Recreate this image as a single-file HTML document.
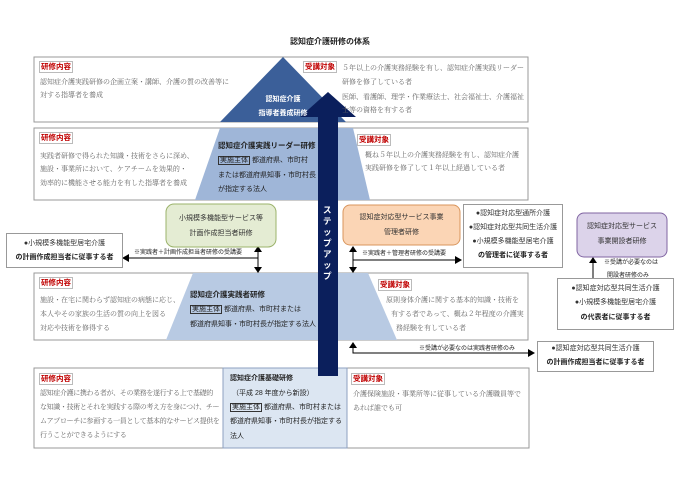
<!DOCTYPE html>
<html><head><meta charset="utf-8"><style>
body{margin:0;background:#fff;width:680px;height:481px;overflow:hidden;position:relative;font-family:"Liberation Sans","Noto Sans CJK JP",sans-serif;}
.a{position:absolute;white-space:nowrap;font-size:7px;line-height:10px;color:#555;}
.s{font-family:"Liberation Serif","Noto Serif CJK SC",serif;color:#666;}
.b{font-weight:bold;color:#222;}
.w{color:#fff;font-weight:bold;}
.lab{position:absolute;font-size:7.5px;line-height:10px;color:#c00000;font-weight:bold;border:1px solid #bbb;padding:0 1px;background:#fff;}
.bx{border:1px solid #333;padding:0 1px;}
.box{position:absolute;border:1px solid #999;background:#fff;}
.c{text-align:center;}
.n{letter-spacing:-0.35px;}
</style></head><body>
<svg width="680" height="481" style="position:absolute;left:0;top:0">
<rect x="34" y="57" width="494" height="65" fill="#fff" stroke="#999"/>
<rect x="34" y="128" width="494" height="72" fill="#fff" stroke="#999"/>
<rect x="34" y="273" width="494" height="67" fill="#fff" stroke="#999"/>
<rect x="34" y="368" width="495" height="80" fill="#fff" stroke="#999"/>
<rect x="223" y="368" width="124" height="80" fill="#dce6f2" stroke="#8ea0c0"/>
<polygon points="283,57 220,122 346,122" fill="#3b5f99"/>
<polygon points="220,128 353,128 370,200 195,200" fill="#9fb6d8"/>
<polygon points="193,273 368,273 397,340 166,340" fill="#b8cae3"/>
<g stroke="#000" stroke-width="1" fill="none">
<line x1="258" y1="250" x2="258" y2="270"/>
<line x1="258" y1="258" x2="128" y2="258"/>
<line x1="353" y1="250" x2="353" y2="270"/>
<line x1="353" y1="260" x2="455" y2="260"/>
<line x1="593" y1="263" x2="593" y2="278"/>
<polyline points="353,348 353,353 528,353"/>
</g>
<g fill="#000">
<polygon points="258,246 254,252 262,252"/><polygon points="258,273 254,267 262,267"/>
<polygon points="122,258 129,254 129,262"/>
<polygon points="353,246 349,252 357,252"/><polygon points="353,273 349,267 357,267"/>
<polygon points="462,260 455,256 455,264"/>
<polygon points="593,257 589,263 597,263"/>
<polygon points="353,342 349,348 357,348"/>
<polygon points="535,353 528,349 528,357"/>
</g>
<polygon points="328,92 356,117 338,117 338,376 318,376 318,117 300,117" fill="#0b1f5c"/>
<rect x="166" y="204" width="110" height="43" rx="8" fill="#e4ecd3" stroke="#9bb36b"/>
<rect x="343" y="205" width="117" height="40" rx="7" fill="#fbd5b5" stroke="#d9955c"/>
<rect x="577" y="213" width="90" height="44" rx="7" fill="#dcd3ea" stroke="#8064a2"/>
</svg>
<div class="a b" style="left:290px;top:37px;font-size:8px;">認知症介護研修の体系</div>

<div class="lab" style="left:39px;top:61px">研修内容</div>
<div class="a s" style="left:40px;top:77px">認知症介護実践研修の企画立案・講師、介護の質の改善等に</div>
<div class="a s" style="left:40px;top:90px">対する指導者を養成</div>
<div class="lab" style="left:303px;top:61px">受講対象</div>
<div class="a s" style="left:342px;top:63px">５年以上の介護実務経験を有し、認知症介護実践リーダー</div>
<div class="a s" style="left:342px;top:77px">研修を修了している者</div>
<div class="a s" style="left:342px;top:92px">医師、看護師、理学・作業療法士、社会福祉士、介護福祉</div>
<div class="a s" style="left:342px;top:105px">士等の資格を有する者</div>
<div class="a w c" style="left:243px;top:95px;width:80px">認知症介護</div>
<div class="a w c" style="left:243px;top:109px;width:80px">指導者養成研修</div>

<div class="lab" style="left:39px;top:132px">研修内容</div>
<div class="a s" style="left:40px;top:151px">実践者研修で得られた知識・技術をさらに深め、</div>
<div class="a s" style="left:40px;top:164px">施設・事業所において、ケアチームを効果的・</div>
<div class="a s" style="left:40px;top:178px">効率的に機能させる能力を有した指導者を養成</div>
<div class="a b" style="left:218px;top:141px;font-size:7.5px">認知症介護実践リーダー研修</div>
<div class="a" style="left:218px;top:156px;color:#222"><span class="bx">実施主体</span> 都道府県、市町村</div>
<div class="a" style="left:218px;top:171px;color:#222">または都道府県知事・市町村長</div>
<div class="a" style="left:218px;top:185px;color:#222">が指定する法人</div>
<div class="lab" style="left:357px;top:134px">受講対象</div>
<div class="a s" style="left:365px;top:150px">概ね５年以上の介護実務経験を有し、認知症介護</div>
<div class="a s" style="left:365px;top:163px">実践研修を修了して１年以上経過している者</div>

<div class="a c" style="left:166px;top:214px;width:110px;color:#333">小規模多機能型サービス等</div>
<div class="a c" style="left:166px;top:229px;width:110px;color:#333">計画作成担当者研修</div>
<div class="box" style="left:6px;top:233px;width:115px;height:33px"></div>
<div class="a c" style="left:6px;top:239px;width:117px;color:#333">●小規模多機能型居宅介護</div>
<div class="a c b" style="left:6px;top:253px;width:117px">の計画作成担当者に従事する者</div>
<div class="a" style="left:134px;top:248px;font-size:6px;color:#222">※実践者＋計画作成担当者研修の受講要</div>

<div class="a c" style="left:343px;top:213px;width:117px;color:#333">認知症対応型サービス事業</div>
<div class="a c" style="left:343px;top:228px;width:117px;color:#333">管理者研修</div>
<div class="box" style="left:463px;top:204px;width:98px;height:62px"></div>
<div class="a c" style="left:463px;top:209px;width:100px;color:#333">●認知症対応型通所介護</div>
<div class="a c" style="left:463px;top:223px;width:100px;color:#333">●認知症対応型共同生活介護</div>
<div class="a c" style="left:463px;top:237px;width:100px;color:#333">●小規模多機能型居宅介護</div>
<div class="a c b" style="left:463px;top:251px;width:100px">の管理者に従事する者</div>
<div class="a" style="left:362px;top:249px;font-size:6px;color:#222">※実践者＋管理者研修の受講要</div>

<div class="a c" style="left:577px;top:222px;width:90px;color:#333">認知症対応型サービス</div>
<div class="a c" style="left:577px;top:237px;width:90px;color:#333">事業開設者研修</div>
<div class="a" style="left:604px;top:258px;font-size:6px;color:#222">※受講が必要なのは</div>
<div class="a" style="left:607px;top:271px;font-size:6px;color:#222">開設者研修のみ</div>
<div class="box" style="left:557px;top:278px;width:115px;height:50px"></div>
<div class="a c" style="left:557px;top:284px;width:117px;color:#333">●認知症対応型共同生活介護</div>
<div class="a c" style="left:557px;top:298px;width:117px;color:#333">●小規模多機能型居宅介護</div>
<div class="a c b" style="left:557px;top:313px;width:117px">の代表者に従事する者</div>

<div class="lab" style="left:39px;top:277px">研修内容</div>
<div class="a s" style="left:40px;top:295px">施設・在宅に関わらず認知症の病態に応じ、</div>
<div class="a s" style="left:40px;top:309px">本人やその家族の生活の質の向上を図る</div>
<div class="a s" style="left:40px;top:323px">対応や技術を修得する</div>
<div class="a b" style="left:190px;top:290px;font-size:7.5px">認知症介護実践者研修</div>
<div class="a" style="left:190px;top:305px;color:#222"><span class="bx">実施主体</span> 都道府県、市町村または</div>
<div class="a" style="left:190px;top:320px;color:#222">都道府県知事・市町村長が指定する法人</div>
<div class="lab" style="left:378px;top:279px">受講対象</div>
<div class="a s" style="left:386px;top:295px">原則身体介護に関する基本的知識・技術を</div>
<div class="a s" style="left:391px;top:309px">有する者であって、概ね２年程度の介護実</div>
<div class="a s" style="left:396px;top:323px">務経験を有している者</div>

<div class="a" style="left:419px;top:344px;font-size:6px;color:#222">※受講が必要なのは実践者研修のみ</div>
<div class="box" style="left:537px;top:341px;width:115px;height:29px"></div>
<div class="a c" style="left:537px;top:344px;width:117px;color:#333">●認知症対応型共同生活介護</div>
<div class="a c b" style="left:537px;top:358px;width:117px">の計画作成担当者に従事する者</div>

<div class="lab" style="left:39px;top:373px">研修内容</div>
<div class="a s n" style="left:40px;top:388px">認知症介護に携わる者が、その業務を遂行する上で基礎的</div>
<div class="a s n" style="left:40px;top:402px">な知識・技術とそれを実践する際の考え方を身につけ、チー</div>
<div class="a s n" style="left:40px;top:416px">ムアプローチに参画する一員として基本的なサービス提供を</div>
<div class="a s n" style="left:40px;top:430px">行うことができるようにする</div>
<div class="a b" style="left:230px;top:374px">認知症介護基礎研修</div>
<div class="a" style="left:232px;top:389px;color:#222">（平成 28 年度から新設）</div>
<div class="a" style="left:230px;top:403px;color:#222"><span class="bx">実施主体</span> 都道府県、市町村または</div>
<div class="a" style="left:230px;top:417px;color:#222">都道府県知事・市町村長が指定する</div>
<div class="a" style="left:230px;top:432px;color:#222">法人</div>
<div class="lab" style="left:351px;top:373px">受講対象</div>
<div class="a s" style="left:353px;top:389px">介護保険施設・事業所等に従事している介護職員等で</div>
<div class="a s" style="left:353px;top:403px">あれば誰でも可</div>

<div class="a w" style="left:323px;top:205px;width:10px;white-space:normal;line-height:11px;font-size:8.5px">ステップアップ</div>
</body></html>
